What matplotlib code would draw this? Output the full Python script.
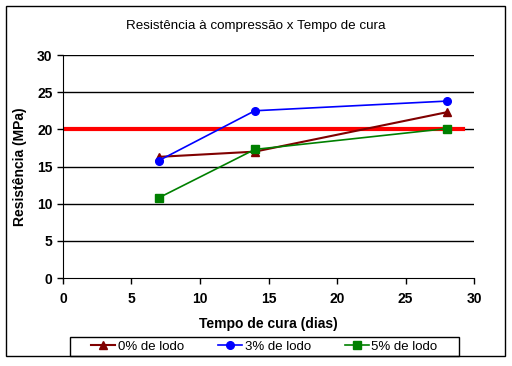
import matplotlib
matplotlib.use("Agg")
import matplotlib.pyplot as plt
from matplotlib.patches import Rectangle

plt.rcParams['font.family'] = ['Liberation Sans', 'DejaVu Sans']

# dados
dias = [7, 14, 28]
lodo_0 = [16.3, 17.0, 22.3]
lodo_3 = [15.8, 22.5, 23.8]
lodo_5 = [10.8, 17.3, 20.1]
limite_x = [0, 29.2]
limite_y = [20, 20]

fig = plt.figure(figsize=(5.12, 3.66), dpi=100)
ax = fig.add_axes([0.123, 0.2404, 0.803, 0.6093])

for y in range(5, 31, 5):
    ax.axhline(y, color="black", lw=1, zorder=1)

ax.plot(limite_x, limite_y, color="#ff0000", lw=3, zorder=2)
l0, = ax.plot(dias, lodo_0, color="#800000", marker="^", ms=6, lw=1.5, label="0% de lodo", zorder=3)
l3, = ax.plot(dias, lodo_3, color="#0000ff", marker="o", ms=5.5, lw=1.2, label="3% de lodo", zorder=4)
l5, = ax.plot(dias, lodo_5, color="#008000", marker="s", ms=5.5, lw=1.2, label="5% de lodo", zorder=3)

ax.set_xlim(0, 30)
ax.set_ylim(0, 30)
ax.set_xticks(range(0, 31, 5))
ax.set_yticks(range(0, 31, 5))
ax.spines['top'].set_visible(False)
ax.spines['right'].set_visible(False)
ax.tick_params(direction="out", length=4, width=1, labelsize=10, colors="black")
ax.tick_params(axis="x", pad=6)
for t in ax.get_xticklabels() + ax.get_yticklabels():
    t.set_fontweight("bold")
ax.set_xlabel("Tempo de cura (dias)", fontsize=10, fontweight="bold", labelpad=8)
ax.set_ylabel("Resistência (MPa)", fontsize=10, fontweight="bold", labelpad=7)
fig.text(0.5, 0.93, "Resistência à compressão x Tempo de cura", ha="center", va="center", fontsize=9.6)

# legenda: caixa desenhada a parte
fig.patches.append(Rectangle((70/512, 10/366), 389/512, 19/366, transform=fig.transFigure,
                             fill=False, edgecolor="black", lw=1))
fig.legend(handles=[l0, l3, l5], loc="center", bbox_to_anchor=(264.5/512, 19.5/366),
           ncol=3, fontsize=9.5, frameon=False, handlelength=1.8, handletextpad=0.2,
           borderpad=0, columnspacing=2.6, borderaxespad=0)

fig.patches.append(Rectangle((6/512, 10/366), 499/512, 350/366, transform=fig.transFigure,
                             fill=False, edgecolor="black", lw=1))

fig.savefig("out.png", dpi=100)
